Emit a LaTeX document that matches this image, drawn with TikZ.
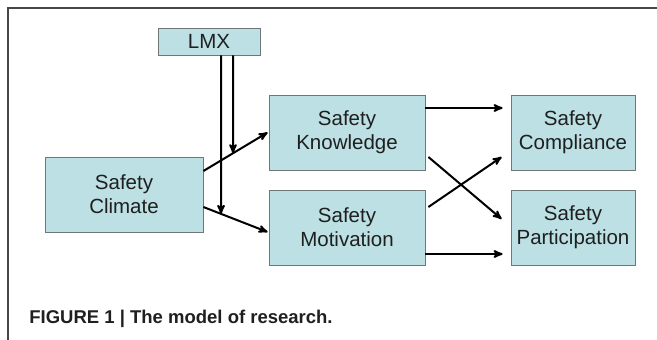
\documentclass[tikz,border=0pt]{standalone}
\usepackage{fontspec}
\setmainfont{Liberation Sans}
\usepackage{tikz}
\usetikzlibrary{arrows}
\definecolor{lcyan}{RGB}{188,224,227}
\definecolor{bgrey}{RGB}{110,118,120}
\definecolor{fgrey}{RGB}{70,70,70}

\begin{document}
\begin{tikzpicture}[x=1pt,y=-1pt,->,>=stealth',line width=2pt]
      \tikzstyle{every node}=[font=\fontsize{20.5}{24}\selectfont,text=black!88]
      \tikzstyle{box}=[rectangle,fill=lcyan,draw=bgrey,line width=0.8pt,align=center,inner sep=0pt]

      \useasboundingbox (0,0) rectangle (657,340);
      \draw[-,fgrey,line width=1.3pt] (657,8) -- (8,8) -- (8,340);

      \node[box,minimum width=102,minimum height=27]	(lmx)   at (209,41.5)  {LMX};
      \node[box,minimum width=158,minimum height=75]	(clim)  at (124,194.5) {Safety\\Climate};
      \node[box,minimum width=156,minimum height=75]	(know)  at (347,132.5) {Safety\\Knowledge};
      \node[box,minimum width=156,minimum height=75]	(motiv) at (347,227.5) {Safety\\Motivation};
      \node[box,minimum width=124,minimum height=75]	(compl) at (573,132.5) {Safety\\Compliance};
      \node[box,minimum width=124,minimum height=75]	(part)  at (573,227.5) {Safety\\Participation};

      % arrow ends
      \coordinate (c1) at ([yshift=23.5pt]clim.east);
      \coordinate (c2) at ([yshift=-12.5pt]clim.east);
      \coordinate (k0) at ([xshift=-1pt]know.west);
      \coordinate (m0) at ([xshift=-1pt,yshift=-4.5pt]motiv.west);
      \coordinate (l1) at ([xshift=12pt]lmx.south);
      \coordinate (l2) at ([xshift=24pt]lmx.south);

      \path
	(c1) edge		(k0)
	(c2) edge		(m0)
	(l1) edge		(intersection of l1--{[yshift=-200pt]l1} and c2--m0)
	(l2) edge		(intersection of l2--{[yshift=-200pt]l2} and c1--k0)
	([yshift=24.5pt]know.east) edge		([xshift=-8pt,yshift=24.5pt]compl.west)
	([yshift=-26.5pt]motiv.east) edge	([xshift=-8pt,yshift=-26.5pt]part.west)
	([xshift=3pt,yshift=-24.5pt]know.east) edge	([xshift=-9pt,yshift=8.5pt]part.west)
	([xshift=3pt,yshift=20.5pt]motiv.east) edge	([xshift=-9pt,yshift=-24.5pt]compl.west);

      \node[anchor=base west,font=\bfseries\fontsize{18.5}{22}\selectfont] (cap) at (25,323) {FIGURE 1 | The model of research.};
\end{tikzpicture}
\end{document}
